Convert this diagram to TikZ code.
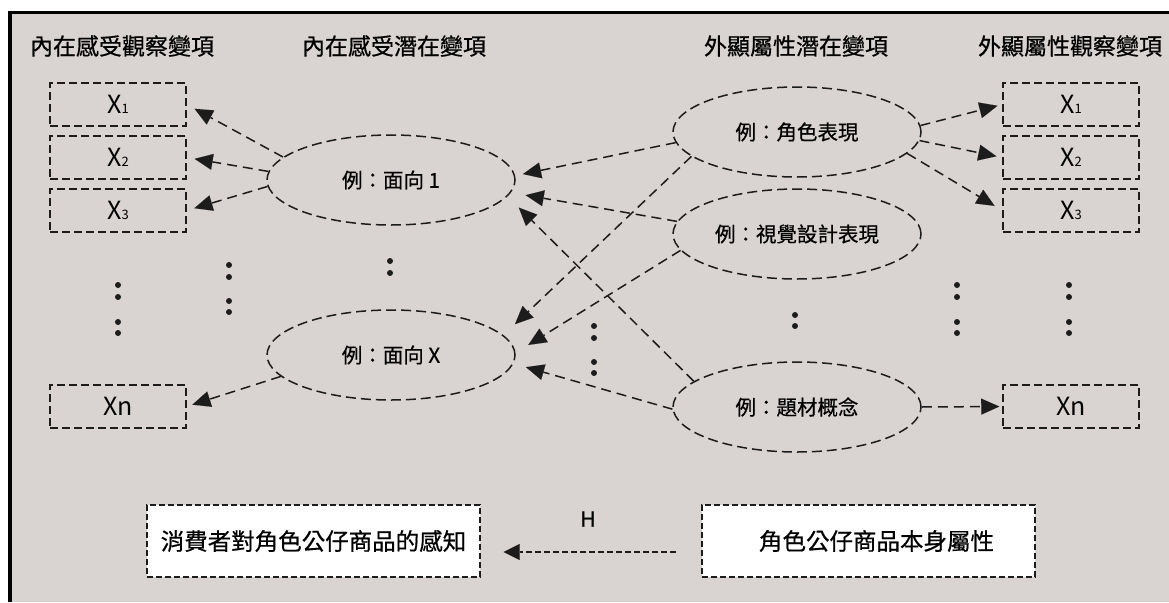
\documentclass[tikz,border=0pt]{standalone}
\usepackage{fontspec}
\setmainfont{Noto Sans CJK TC}[BoldFont=Noto Sans CJK TC,BoldFeatures={FakeBold=0.6}]
\usetikzlibrary{arrows.meta,shapes.geometric}
\definecolor{bg}{RGB}{217,211,209}
\definecolor{ink}{RGB}{28,28,28}
\newcommand{\sbx}[1]{X{\fontsize{13}{13}\selectfont #1}}
\begin{document}
\begin{tikzpicture}[x=1pt,y=-1pt,
  ovar/.style={draw=ink,line width=1.5pt,dash pattern=on 8pt off 4pt,minimum width=136pt,minimum height=43pt,inner sep=0pt,font=\fontsize{25}{25}\selectfont},
  lat/.style={ellipse,draw=ink,line width=1.5pt,dash pattern=on 10pt off 5pt,minimum width=248pt,minimum height=90pt,inner sep=0pt,font=\fontsize{20.5}{20.5}\selectfont\bfseries},
  head/.style={font=\fontsize{23}{23}\selectfont\bfseries,inner sep=0pt},
  tip/.style={-{Triangle[length=18pt,width=16pt,line width=0.01pt]}},
  conn/.style={draw=ink,line width=1.5pt,dash pattern=on 10pt off 6pt,tip},
  bbox/.style={draw=ink,fill=white,line width=1.3pt,dash pattern=on 6pt off 3pt,minimum width=333pt,minimum height=72pt,inner sep=0pt,font=\fontsize{23.5}{23.5}\selectfont\bfseries},
  bconn/.style={draw=ink,line width=1.3pt,dash pattern=on 6pt off 3pt,-{Triangle[length=16pt,width=16pt,line width=0.01pt]}},
  dot/.style={fill=ink}
]
\useasboundingbox (0,0) rectangle (1169,602);
\fill[white] (0,0) rectangle (1169,602);
\fill[bg] (8,11) rectangle (1169,602);
\draw[black,line width=3.5pt] (9.75,602) -- (9.75,12.75) -- (1169,12.75);

% headings
\node[head] (h1) at (122,46) {內在感受觀察變項};
\node[head] (h2) at (394,46) {內在感受潛在變項};
\node[head] (h3) at (796,46) {外顯屬性潛在變項};
\node[head] (h4) at (1070,46) {外顯屬性觀察變項};

% observed variables
\node[ovar] (l1) at (118,104.5) {\sbx{1}};
\node[ovar] (l2) at (118,157.5) {\sbx{2}};
\node[ovar] (l3) at (118,210.5) {\sbx{3}};
\node[ovar] (ln) at (118,406.5) {Xn};
\node[ovar] (r1) at (1071,104.5) {\sbx{1}};
\node[ovar] (r2) at (1071,157.5) {\sbx{2}};
\node[ovar] (r3) at (1071,210.5) {\sbx{3}};
\node[ovar] (rn) at (1071,406.5) {Xn};

% latent variables
\node[lat] (f1) at (391,180) {例：面向 1};
\node[lat] (fx) at (391,355) {例：面向 X};
\node[lat] (js) at (797,132) {例：角色表現};
\node[lat] (vs) at (797,234) {例：視覺設計表現};
\node[lat] (ts) at (797,407) {例：題材概念};

% dots
\foreach \x/\y in {118/285,118/297,118/322,118/333,
                   229/265,229/277,229/301,229/312,
                   390/261,390/273,
                   594/326,594/338,594/362,594/373,
                   795/315,795/326,
                   957/285,957/297,957/322,957/333,
                   1069/285,1069/297,1069/322,1069/333}
  \fill[dot] (\x,\y) circle (3pt);

% loadings
\draw[conn,shorten >=9pt] (f1.168) -- (l1.east);
\draw[conn,shorten >=8pt] (f1.176) -- (l2.east);
\draw[conn,shorten >=8pt] (f1.183) -- (l3.east);
\draw[conn,shorten >=6pt] (fx.191) -- (ln.east);
\draw[conn,shorten >=5pt] (js.3) -- (r1.west);
\draw[conn,shorten >=6pt] (js.-4.5) -- (r2.west);
\draw[conn,shorten >=9pt] (js.-11.5) -- (r3.west);
\draw[conn,shorten >=3pt] (ts.east) -- (rn.west);

% cross paths
\draw[conn,shorten >=8pt] (js.185) -- (f1.2);
\draw[conn,shorten >=15pt] (vs.174) -- (f1.-6);
\draw[conn,shorten >=16pt] (ts.166) -- (f1.-8);
\draw[conn,shorten >=16pt] (js.193) -- (fx.10);
\draw[conn,shorten >=15pt] (vs.188) -- (fx.1);
\draw[conn,shorten >=13pt] (ts.181) -- (fx.-4);

% bottom
\node[bbox] (lb) at (313.5,541) {消費者對角色公仔商品的感知};
\node[bbox] (rb) at (868.5,541) {\hspace*{16pt}角色公仔商品本身屬性};
\draw[bconn,shorten <=25pt,shorten >=23pt] ([yshift=-11pt]rb.west) -- ([yshift=-11pt]lb.east);
\node[font=\fontsize{21}{21}\selectfont\bfseries,inner sep=0pt] (hl) at (588,519) {H};
\end{tikzpicture}
\end{document}
